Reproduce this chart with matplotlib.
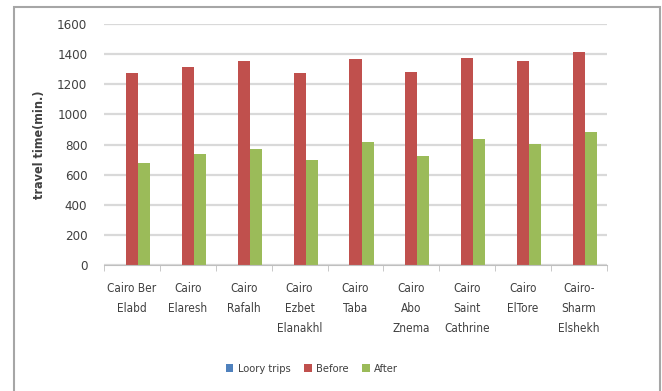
import numpy as np
import matplotlib.pyplot as plt
from matplotlib.patches import Rectangle

plt.rcParams['font.family'] = ['DejaVu Sans']
plt.rcParams['font.stretch'] = 'condensed'

# Tiempos de viaje por ruta (minutos)
rutas = ['Cairo Ber\nElabd', 'Cairo\nElaresh', 'Cairo\nRafalh', 'Cairo\nEzbet\nElanakhl',
         'Cairo\nTaba', 'Cairo\nAbo\nZnema', 'Cairo\nSaint\nCathrine', 'Cairo\nElTore',
         'Cairo-\nSharm\nElshekh']
loory_trips = [0, 0, 0, 0, 0, 0, 0, 0, 0]
before = [1278, 1315, 1355, 1272, 1366, 1281, 1377, 1355, 1412]
after = [675, 739, 772, 697, 818, 722, 838, 805, 883]

fig = plt.figure(figsize=(6.62, 3.91), dpi=100)
ax = fig.add_axes([104 / 662, 1 - 265 / 391, (607 - 104) / 662, (265 - 24) / 391])

x = np.arange(len(rutas))
w = 0.215
ax.bar(x - w, loory_trips, w, color='#4F81BD', label='Loory trips')
ax.bar(x, before, w, color='#C0504D', label='Before')
ax.bar(x + w, after, w, color='#9BBB59', label='After')

ax.set_xlim(-0.5, len(rutas) - 0.5)
ax.set_ylim(0, 1600)
ax.set_yticks(range(0, 1601, 200))
ax.yaxis.grid(True, color='#D9D9D9', linewidth=1.6)
ax.set_axisbelow(True)
for s in ['top', 'right', 'left']:
    ax.spines[s].set_visible(False)
ax.spines['bottom'].set_color('#BFBFBF')

# etiquetas de categoria centradas, marcas en los limites
ax.set_xticks(x)
ax.set_xticklabels(rutas, fontsize=8.5, color='#404040', linespacing=1.72)
ax.tick_params(axis='x', length=0, pad=12)
ax.set_xticks(np.arange(len(rutas) + 1) - 0.5, minor=True)
ax.tick_params(axis='x', which='minor', length=4, color='#BFBFBF')
ax.tick_params(axis='y', length=0, labelsize=9.5, labelcolor='#404040', pad=12)
ax.set_ylabel('travel time(min.)', fontsize=9, color='#404040', fontweight='bold', labelpad=8)

fig.legend(loc='center', bbox_to_anchor=(312 / 662, 1 - 369 / 391), ncol=3, frameon=False,
           fontsize=8, handlelength=0.7, handleheight=0.7, handletextpad=0.4,
           columnspacing=1.2, labelcolor='#404040')

# marco exterior
fig.patches.append(Rectangle((14 / 662, -0.05), (660 - 14) / 662, 1 - 7 / 391 + 0.05,
                             transform=fig.transFigure, fill=False,
                             edgecolor='#A6A6A6', linewidth=1.5))

fig.savefig('out.png', dpi=100)
